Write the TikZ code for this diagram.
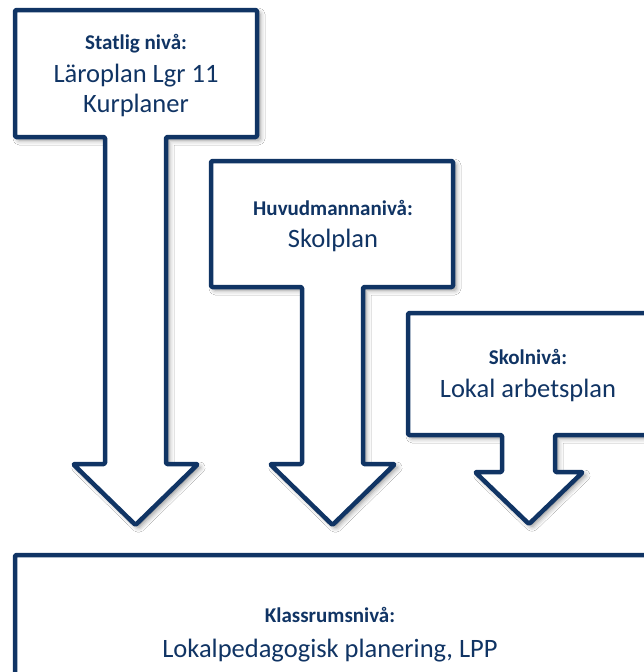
\documentclass[tikz,border=0pt]{standalone}
\usepackage{fontspec}
\setmainfont{Carlito}
\usetikzlibrary{shadows.blur}
\definecolor{navy}{RGB}{16,52,100}
\begin{document}
\begin{tikzpicture}[x=1pt,y=-1pt,
  callout/.style={draw=navy,line width=4.5pt,fill=white,line join=round,rounded corners=1.2pt,
    blur shadow={shadow xshift=3pt,shadow yshift=-3pt,shadow blur radius=5pt,shadow opacity=45}},
  lvl/.style={anchor=base,inner sep=0pt,text=navy,font=\fontsize{21}{25}\selectfont\bfseries},
  doc/.style={anchor=base,inner sep=0pt,text=navy,font=\fontsize{26.5}{31}\selectfont}]
\useasboundingbox (0,0) rectangle (644,672);
\clip (0,0) rectangle (644,672);
\fill[white] (0,0) rectangle (644,672);
% callout 1
\path[callout] (15,10) -- (257,10) -- (257,137) -- (166,137) -- (166,464) -- (198,464)
  -- (135.5,525) -- (73,464) -- (105,464) -- (105,137) -- (15,137) -- cycle;
% callout 2
\path[callout] (211,161) -- (453,161) -- (453,287) -- (363,287) -- (363,464) -- (395,464)
  -- (332.5,525) -- (270,464) -- (302,464) -- (302,287) -- (211,287) -- cycle;
% callout 3
\path[callout] (408,313) -- (650,313) -- (650,435) -- (555,435) -- (555,472) -- (583,472)
  -- (529,524) -- (475,472) -- (502,472) -- (502,435) -- (408,435) -- cycle;
% bottom box
\path[callout] (15,555) rectangle (648,700);
% texts
\node[lvl] (t1a) at (136,49) {Statlig nivå:};
\node[doc] (t1b) at (136,82) {Läroplan Lgr 11};
\node[doc] (t1c) at (136,112) {Kurplaner};
\node[lvl] (t2a) at (333,215) {Huvudmannanivå:};
\node[doc] (t2b) at (333,247) {Skolplan};
\node[lvl] (t3a) at (528,364) {Skolnivå:};
\node[doc] (t3b) at (528,397) {Lokal arbetsplan};
\node[lvl] (t4a) at (330,622) {Klassrumsnivå:};
\node[doc] (t4b) at (330,657) {Lokalpedagogisk planering, LPP};
\end{tikzpicture}
\end{document}
